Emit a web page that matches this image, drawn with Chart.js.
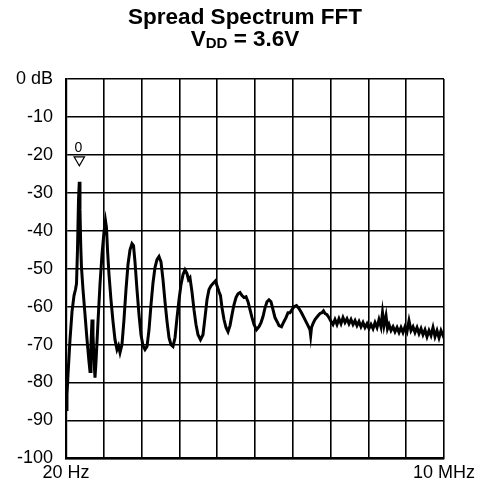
<!DOCTYPE html>
<html>
<head>
<meta charset="utf-8">
<script src="https://cdn.jsdelivr.net/npm/chart.js@4/dist/chart.umd.min.js"></script>
<style>
  body { margin: 0; background: #fff; }
  #wrap { position: relative; width: 488px; height: 495px; }
  .title {
    position: absolute; left: 0; width: 488px; text-align: center;
    font: bold 22.5px "Liberation Sans", Arial, sans-serif; line-height: 22px; color: #000;
  }
  .title sub { font-size: 15px; line-height: 0; position: relative; top: 2px; vertical-align: baseline; }
  #t1 { top: 6px; left: 1px; }
  #t2 { top: 28px; left: 1px; }
</style>
</head>
<body>
<div id="wrap">
  <div class="title" id="t1">Spread Spectrum FFT</div>
  <div class="title" id="t2">V<sub>DD</sub> = 3.6V</div>
  <canvas id="chart" width="488" height="495"></canvas>
</div>
<script>
// frequency in MHz (0 = 20 Hz, 10 = 10 MHz), level in dB
const freqMHz = [
  0.000, 0.026, 0.053, 0.106, 0.159, 0.212, 0.251, 0.278, 0.304, 0.331,
  0.352, 0.370, 0.389, 0.410, 0.450, 0.503, 0.556, 0.608, 0.635, 0.661,
  0.688, 0.714, 0.741, 0.767, 0.794, 0.847, 0.899, 0.952, 1.005, 1.045,
  1.071, 1.098, 1.138, 1.190, 1.243, 1.296, 1.349, 1.389, 1.429, 1.481,
  1.534, 1.587, 1.640, 1.693, 1.746, 1.786, 1.825, 1.878, 1.931, 1.984,
  2.037, 2.090, 2.143, 2.196, 2.249, 2.302, 2.354, 2.407, 2.460, 2.513,
  2.566, 2.619, 2.672, 2.725, 2.778, 2.831, 2.884, 2.937, 2.989, 3.042,
  3.095, 3.148, 3.201, 3.241, 3.280, 3.333, 3.386, 3.439, 3.492, 3.558,
  3.624, 3.677, 3.730, 3.783, 3.836, 3.889, 3.955, 3.995, 4.048, 4.087,
  4.127, 4.180, 4.233, 4.286, 4.339, 4.392, 4.444, 4.497, 4.550, 4.603,
  4.656, 4.709, 4.762, 4.815, 4.868, 4.921, 4.974, 5.040, 5.106, 5.159,
  5.212, 5.265, 5.317, 5.370, 5.423, 5.476, 5.529, 5.582, 5.635, 5.701,
  5.767, 5.820, 5.873, 5.926, 5.979, 6.032, 6.098, 6.164, 6.230, 6.296,
  6.362, 6.402, 6.455, 6.473, 6.495, 6.534, 6.587, 6.667, 6.720, 6.772,
  6.812, 6.852, 6.905, 6.958,
  7.011, 7.063, 7.116, 7.169, 7.222, 7.275, 7.328, 7.381, 7.434, 7.487,
  7.540, 7.593, 7.646, 7.698, 7.751, 7.804, 7.857, 7.910, 7.963, 8.016,
  8.069, 8.122, 8.175, 8.228, 8.280, 8.333, 8.373, 8.413, 8.466, 8.505,
  8.545, 8.598, 8.651, 8.704, 8.757, 8.810, 8.862, 8.915, 8.968, 9.021,
  9.074, 9.127, 9.180, 9.233, 9.286, 9.339, 9.392, 9.444, 9.497, 9.550,
  9.603, 9.656, 9.709, 9.762, 9.815, 9.868, 9.921, 9.974, 10.000
];
const levelDb = [
  -87.1, -83.2, -77.9, -68.7, -61.3, -57.1, -55.5, -53.9, -45.0, -31.8,
  -27.1, -34.5, -43.7, -49.7, -55.5, -62.1, -68.7, -74.5, -77.1, -70.0,
  -63.4, -67.4, -73.9, -78.7, -74.5, -63.9, -54.2, -46.3, -40.3, -37.4,
  -39.2, -45.0, -51.6, -58.2, -63.9, -68.7, -71.3, -70.3, -72.1, -70.0,
  -63.4, -55.5, -48.9, -45.0, -43.4, -43.9, -48.2, -55.5, -62.1, -67.4,
  -70.3, -71.3, -70.5, -66.1, -59.5, -53.7, -49.7, -47.6, -46.8, -48.2,
  -52.9, -58.7, -63.9, -68.2, -70.0, -70.5, -68.2, -62.9, -58.2, -54.2,
  -51.6, -50.3, -51.3, -52.9, -52.4, -56.1, -60.8, -64.7, -67.4, -68.7,
  -67.4, -62.9, -58.2, -55.5, -54.5, -53.9, -53.2, -54.5, -56.1, -57.1,
  -60.3, -63.4, -65.5, -66.6, -65.0, -62.1, -59.5, -57.6, -56.6, -56.3,
  -57.1, -57.6, -57.4, -58.7, -60.8, -62.9, -64.7, -66.1, -65.3, -64.2,
  -62.6, -60.3, -58.7, -58.2, -58.7, -60.8, -62.9, -63.9, -65.0, -65.3,
  -63.9, -62.9, -61.6, -61.6, -60.8, -60.0, -59.7, -60.5, -61.6, -62.9,
  -64.2, -65.0, -66.1, -67.6, -65.5, -64.5, -63.4, -62.4, -61.8, -61.6,
  -61.1, -61.8, -62.1, -62.9,
  -63.9, -64.7, -63.4, -64.7, -63.2, -64.5, -62.9, -64.2, -63.2, -64.5,
  -63.4, -64.7, -63.7, -65.0, -63.9, -65.3, -64.2, -65.5, -64.5, -65.8,
  -64.7, -65.8, -64.2, -65.5, -63.4, -65.3, -61.6, -65.0, -62.4, -65.8,
  -64.7, -66.3, -65.3, -66.6, -65.5, -66.8, -65.5, -66.8, -65.3, -66.6,
  -63.7, -66.3, -65.3, -66.8, -65.5, -67.1, -65.8, -67.4, -66.1, -67.9,
  -66.3, -67.6, -65.5, -67.9, -66.3, -68.2, -66.3, -67.6, -66.8
];

// marker "0" on the main peak
const markerFreq = 0.352;
const markerDb = -21.3;
const markerLabel = '0';

const yTicks = [0, -10, -20, -30, -40, -50, -60, -70, -80, -90, -100];
const xTickLabels = { 0: '20 Hz', 10: '10 MHz' };

const fontFamily = '"Liberation Sans", Arial, sans-serif';

const markerText = {
  id: 'markerText',
  afterDatasetsDraw(chart) {
    const { ctx, scales } = chart;
    const x = scales.x.getPixelForValue(markerFreq);
    const y = scales.y.getPixelForValue(markerDb);
    ctx.save();
    ctx.font = '14px ' + fontFamily;
    ctx.fillStyle = '#000';
    ctx.textAlign = 'center';
    ctx.textBaseline = 'alphabetic';
    ctx.fillText(markerLabel, x - 1, y - 8);
    ctx.restore();
  }
};

const points = freqMHz.map((f, i) => ({ x: f, y: levelDb[i] }));

new Chart(document.getElementById('chart'), {
  type: 'line',
  data: {
    datasets: [
      {
        data: points,
        borderColor: '#000',
        borderWidth: 3,
        pointRadius: 0,
        tension: 0,
        fill: false
      },
      {
        data: [{ x: markerFreq, y: markerDb }],
        showLine: false,
        pointStyle: 'triangle',
        rotation: 180,
        pointRadius: 6,
        pointBackgroundColor: '#fff',
        pointBorderColor: '#000',
        pointBorderWidth: 1.2
      }
    ]
  },
  options: {
    responsive: false,
    animation: false,
    events: [],
    layout: { padding: { left: 0, right: 44, top: 79, bottom: 7 } },
    plugins: { legend: { display: false }, tooltip: { enabled: false }, title: { display: false } },
    scales: {
      x: {
        type: 'linear',
        min: 0,
        max: 10,
        ticks: {
          stepSize: 1,
          autoSkip: false,
          maxRotation: 0,
          padding: 4,
          color: '#000',
          font: { family: fontFamily, size: 18 },
          callback: v => xTickLabels[v] || ''
        },
        grid: { color: '#000', lineWidth: 1.6, drawTicks: false },
        border: { color: '#000', width: 2.2 }
      },
      y: {
        type: 'linear',
        min: -100,
        max: 0,
        afterFit: s => { s.width = 66; },
        afterBuildTicks: s => { s.ticks = yTicks.map(v => ({ value: v })); },
        ticks: {
          padding: 13,
          color: '#000',
          font: { family: fontFamily, size: 18 },
          callback: v => (v === 0 ? '0 dB' : String(v))
        },
        grid: { color: '#000', lineWidth: 1.6, drawTicks: false },
        border: { color: '#000', width: 2.2 }
      }
    }
  },
  plugins: [markerText]
});
</script>
</body>
</html>
